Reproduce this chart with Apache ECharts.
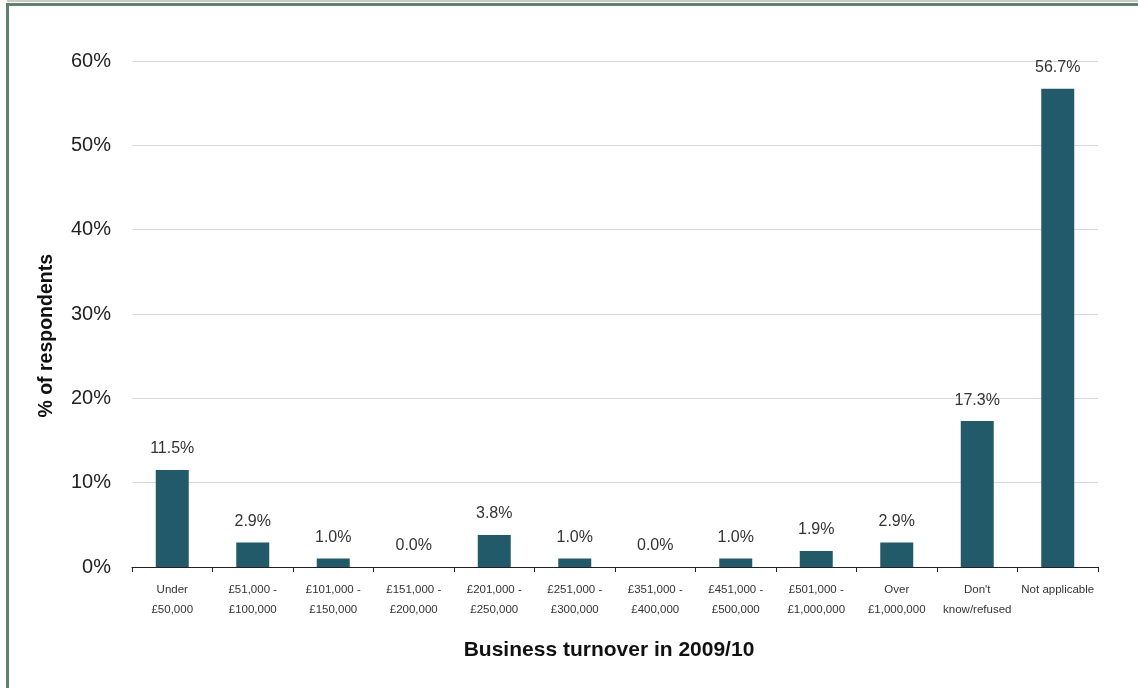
<!DOCTYPE html>
<html>
<head>
<meta charset="utf-8">
<script src="https://cdn.jsdelivr.net/npm/echarts@6/dist/echarts.min.js"></script>
<style>
  html, body { margin: 0; padding: 0; background: #ffffff; }
  #topband { position: absolute; left: 7px; top: 0; width: 1131px; height: 2px; background: #c9c9c9; }
  #frame { position: absolute; left: 6px; top: 3px; width: 1132px; height: 685px;
           border-top: 3px solid #62806e; border-left: 3px solid #62806e; box-sizing: border-box; }
  #chart { position: absolute; left: 0; top: 0; width: 1138px; height: 688px; }
</style>
</head>
<body>
<div id="topband"></div>
<div id="frame"></div>
<div id="chart"></div>
<script>
// Turnover bands (two-line axis labels)
const categories = [
  'Under\n£50,000', '£51,000 -\n£100,000', '£101,000 -\n£150,000', '£151,000 -\n£200,000',
  '£201,000 -\n£250,000', '£251,000 -\n£300,000', '£351,000 -\n£400,000', '£451,000 -\n£500,000',
  '£501,000 -\n£1,000,000', 'Over\n£1,000,000', "Don't\nknow/refused", 'Not applicable'
];
// Share of respondents in each band (%)
const shares = [11.5, 2.9, 1.0, 0.0, 3.8, 1.0, 0.0, 1.0, 1.9, 2.9, 17.3, 56.7];
const yTicks = [0, 10, 20, 30, 40, 50, 60];

const chart = echarts.init(document.getElementById('chart'), null, { renderer: 'canvas' });
const font = '"Liberation Sans", Arial, sans-serif';

chart.setOption({
  animation: false,
  grid: { left: 132, right: 40, top: 61, bottom: 121 },
  xAxis: {
    type: 'category',
    data: categories,
    name: 'Business turnover in 2009/10',
    nameLocation: 'middle',
    nameGap: 73,
    nameTextStyle: { fontFamily: font, fontSize: 21, fontWeight: 'bold', color: '#111', padding: [0, 12, 0, 0] },
    axisLine: { lineStyle: { color: '#222', width: 1 } },
    axisTick: { show: true, length: 5, alignWithLabel: false, lineStyle: { color: '#222' } },
    axisLabel: {
      interval: 0, margin: 13, fontFamily: font, fontSize: 11.5, color: '#333',
      lineHeight: 20
    }
  },
  yAxis: {
    type: 'value',
    min: yTicks[0],
    max: yTicks[yTicks.length - 1],
    interval: 10,
    axisLine: { show: false },
    axisTick: { show: false },
    splitLine: { lineStyle: { color: '#d9d9d9', width: 1 } },
    axisLabel: {
      margin: 21, fontFamily: font, fontSize: 20, color: '#222',
      formatter: v => v + '%'
    }
  },
  graphic: [{
    type: 'text',
    left: 37,
    top: 254,
    rotation: Math.PI / 2,
    style: {
      text: '% of respondents',
      font: 'bold 19.5px ' + font,
      fill: '#111'
    }
  }],
  series: [{
    type: 'bar',
    data: shares,
    barWidth: 33,
    itemStyle: { color: '#235a69' },
    label: {
      show: true,
      position: 'top',
      distance: 13,
      fontFamily: font,
      fontSize: 16,
      color: '#333',
      formatter: p => p.value.toFixed(1) + '%'
    }
  }]
});
</script>
</body>
</html>
